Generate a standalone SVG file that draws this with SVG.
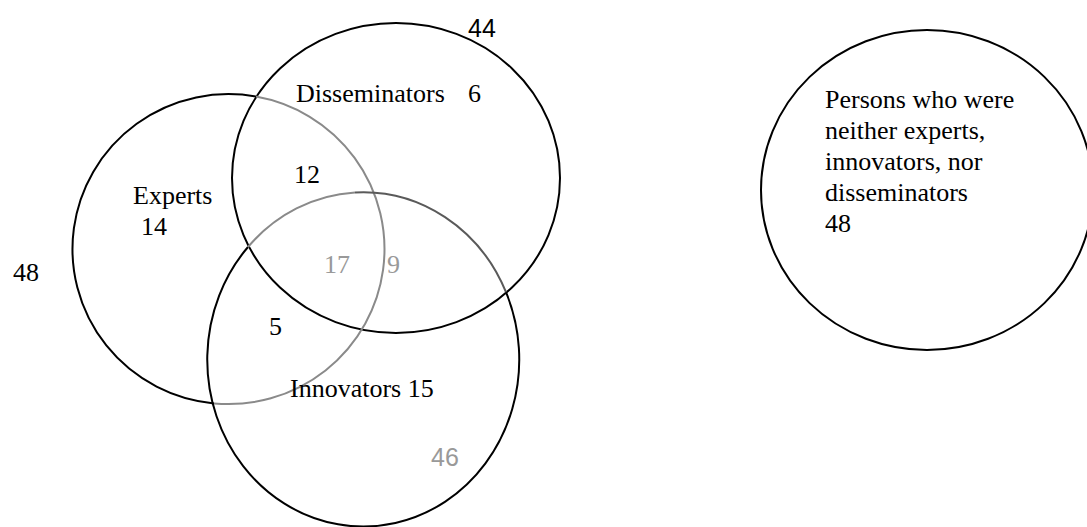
<svg xmlns="http://www.w3.org/2000/svg" width="1087" height="527" viewBox="0 0 1087 527">
<style>
.c{fill:none;stroke-width:2}
.k{stroke:#000}
.g1{stroke:#8a8a8a}
.g2{stroke:#5a5a5a}
.t{font-family:"Liberation Serif","Times New Roman",serif;font-size:26px;fill:#000}
.s{font-family:"Liberation Sans",Arial,sans-serif;font-size:25px}
.gr{fill:#999}
</style>
<rect width="1087" height="527" fill="#fff"/>
<g id="disseminators">
<ellipse class="c k" cx="396" cy="178" rx="164" ry="155"/>
</g>
<g id="experts">
<path class="c k" d="M214 403.4 A156 155 0 1 1 256 96.5"/>
<path class="c g1" d="M256 96.5 A156 155 0 0 1 214 403.4"/>
</g>
<g id="innovators">
<path class="c k" d="M506 292.2 A156 167 0 1 1 248 247"/>
<path class="c g1" d="M248 247 A156 167 0 0 1 355 192.5"/>
<path class="c g2" d="M355 192.5 A156 167 0 0 1 506 292.2"/>
</g>
<g id="neither">
<ellipse class="c k" cx="927" cy="190" rx="166" ry="160"/>
<text class="t" x="825" y="108">Persons who were</text>
<text class="t" x="825" y="139">neither experts,</text>
<text class="t" x="825" y="170">innovators, nor</text>
<text class="t" x="825" y="201">disseminators</text>
<text class="t" x="825" y="232">48</text>
</g>
<g id="labels">
<text class="s" x="468" y="37">44</text>
<text class="t" x="296" y="102">Disseminators</text>
<text class="t" x="468" y="102">6</text>
<text class="t" x="133" y="204">Experts</text>
<text class="t" x="141" y="235">14</text>
<text class="t" x="294" y="183">12</text>
<text class="t" x="13" y="281">48</text>
<text class="t gr" x="324" y="273">17</text>
<text class="t gr" x="387" y="273">9</text>
<text class="t" x="269" y="335">5</text>
<text class="t" x="290" y="397">Innovators 15</text>
<text class="s gr" x="431" y="466">46</text>
</g>
</svg>
